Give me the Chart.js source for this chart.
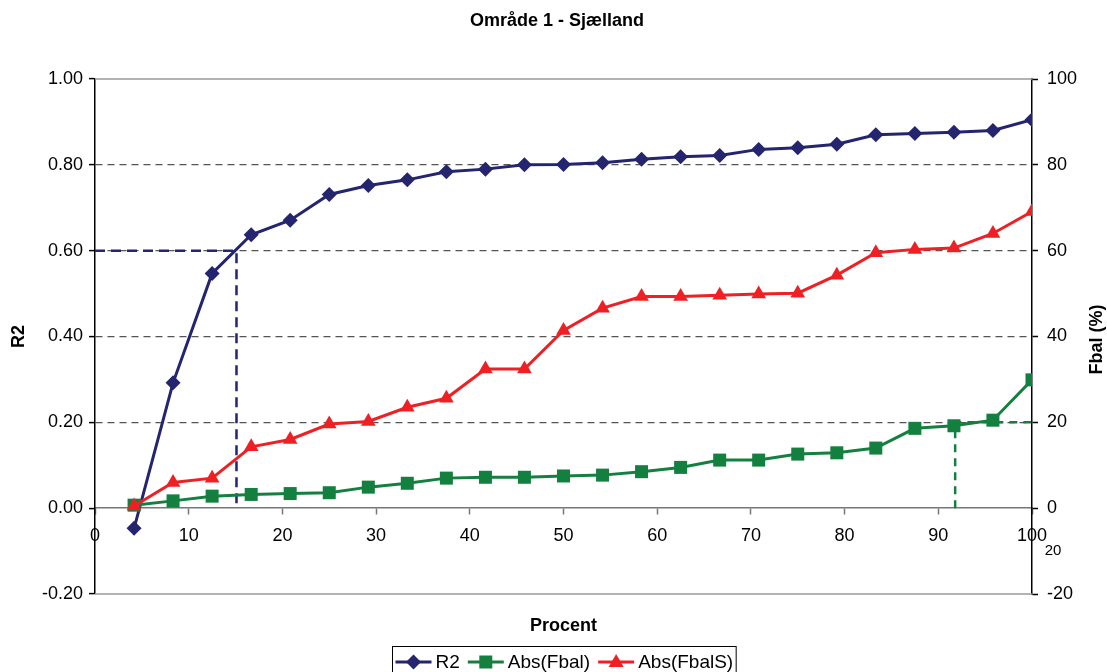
<!DOCTYPE html>
<html>
<head>
<meta charset="utf-8">
<title>Område 1 - Sjælland</title>
<script src="https://cdn.jsdelivr.net/npm/chart.js@4.4.1/dist/chart.umd.min.js"></script>
<style>
    html, body { margin: 0; padding: 0; background: #fff; }
    #chart { display: block; }
</style>
</head>
<body>
<canvas id="chart" width="1107" height="672"></canvas>
<script>
// ================== DATA ==================
const procent  = [4.17, 8.33, 12.5, 16.67, 20.83, 25, 29.17, 33.33, 37.5, 41.67, 45.83, 50,
                  54.17, 58.33, 62.5, 66.67, 70.83, 75, 79.17, 83.33, 87.5, 91.67, 95.83, 100];
const r2       = [-0.047, 0.292, 0.547, 0.637, 0.671, 0.731, 0.752, 0.765, 0.784, 0.790, 0.800, 0.801,
                  0.805, 0.813, 0.819, 0.822, 0.836, 0.840, 0.848, 0.870, 0.873, 0.876, 0.880, 0.905];
const absFbal  = [0.7, 1.7, 2.8, 3.2, 3.4, 3.6, 4.9, 5.8, 7.0, 7.2, 7.2, 7.5,
                  7.7, 8.5, 9.5, 11.2, 11.2, 12.6, 12.9, 14.0, 18.6, 19.2, 20.5, 29.9];
const absFbalS = [0.5, 6.0, 7.0, 14.3, 16.0, 19.6, 20.2, 23.5, 25.6, 32.4, 32.4, 41.4,
                  46.6, 49.3, 49.3, 49.6, 49.9, 50.1, 54.3, 59.5, 60.3, 60.6, 64.0, 69.1];

// dashed guide lines (R2 = 0.60 and Fbal = 20 %)
const r2GuideX   = [0, 15.1, 15.1];
const r2GuideY   = [0.6, 0.6, 0];
const fbalGuideX = [91.8, 91.8, 100];
const fbalGuideY = [0, 20, 20];

// tick labels
const procentTicks = [0, 10, 20, 30, 40, 50, 60, 70, 80, 90, 100];
const r2Ticks      = [-0.2, 0, 0.2, 0.4, 0.6, 0.8, 1.0];
const fbalTicks    = [-20, 0, 20, 40, 60, 80, 100];

const NAVY  = "#24246f";
const GREEN = "#14803f";
const RED   = "#ee2024";
const FONT  = "'Liberation Sans', Arial, sans-serif";

function pts(xs, ys) {
    return xs.map((x, i) => ({ x: x, y: ys[i] }));
}

// ================== EXTRA DRAWING ==================
function drawMarker(ctx, style, x, y, color) {
    ctx.fillStyle = color;
    ctx.beginPath();
    if (style === "diamond") {
        ctx.moveTo(x, y - 7.5); ctx.lineTo(x + 7.5, y); ctx.lineTo(x, y + 7.5); ctx.lineTo(x - 7.5, y);
    } else if (style === "square") {
        ctx.rect(x - 6.5, y - 6.5, 13, 13);
    } else {
        ctx.moveTo(x, y - 8); ctx.lineTo(x + 7.5, y + 5); ctx.lineTo(x - 7.5, y + 5);
    }
    ctx.closePath();
    ctx.fill();
}

const extras = {
    id: "extras",
    beforeDatasetsDraw(chart) {
        const { ctx, chartArea: a } = chart;
        ctx.save();
        ctx.strokeStyle = "#9a9a9a";
        ctx.lineWidth = 1.5;
        ctx.beginPath();
        ctx.moveTo(a.left, a.top);    ctx.lineTo(a.right, a.top);
        ctx.moveTo(a.left, a.bottom); ctx.lineTo(a.right, a.bottom);
        ctx.stroke();
        ctx.restore();
    },
    afterDraw(chart) {
        const { ctx, chartArea: a } = chart;
        const midY = (a.top + a.bottom) / 2;
        const midX = (a.left + a.right) / 2;
        ctx.save();
        ctx.fillStyle = "#000";
        ctx.textBaseline = "middle";
        ctx.textAlign = "center";

        ctx.font = "bold 18px " + FONT;
        ctx.fillText("Område 1 - Sjælland", 557, 21);
        ctx.fillText("Procent", midX, 626);

        ctx.save();
        ctx.translate(19, midY);
        ctx.rotate(-Math.PI / 2);
        ctx.fillText("R2", 0, 0);
        ctx.restore();

        ctx.save();
        ctx.translate(1097, midY + 3);
        ctx.rotate(-Math.PI / 2);
        ctx.fillText("Fbal (%)", 0, 0);
        ctx.restore();

        // stray label next to the right axis
        ctx.font = "15px " + FONT;
        ctx.fillText("20", 1053, 551);

        // ---- LEGEND ----
        const items = [
            { text: "R2",         color: NAVY,  style: "diamond" },
            { text: "Abs(Fbal)",  color: GREEN, style: "square" },
            { text: "Abs(FbalS)", color: RED,   style: "triangle" }
        ];
        ctx.font = "19px " + FONT;
        const lineLen = 36, gap = 4, itemGap = 8;
        let total = 6;
        items.forEach((it, i) => {
            it.w = ctx.measureText(it.text).width;
            total += lineLen + gap + it.w + (i < items.length - 1 ? itemGap : 0);
        });
        const boxLeft = Math.round(midX - total / 2) + 0.5;
        const ly = 662;
        ctx.strokeStyle = "#000";
        ctx.lineWidth = 1;
        ctx.strokeRect(boxLeft, 646.5, total, 40);

        let x = boxLeft + 3;
        ctx.textAlign = "left";
        items.forEach(it => {
            ctx.strokeStyle = it.color;
            ctx.lineWidth = 3;
            ctx.beginPath();
            ctx.moveTo(x, ly);
            ctx.lineTo(x + lineLen, ly);
            ctx.stroke();
            drawMarker(ctx, it.style, x + lineLen / 2, ly, it.color);
            ctx.fillStyle = "#000";
            ctx.fillText(it.text, x + lineLen + gap, ly + 1);
            x += lineLen + gap + it.w + itemGap;
        });
        ctx.restore();
    }
};

// ================== CHART ==================
function isEdge(v) {
    return Math.abs(v - 1) < 1e-6 || Math.abs(v + 0.2) < 1e-6 || Math.abs(v) < 1e-6;
}

new Chart(document.getElementById("chart"), {
    type: "line",
    data: {
        datasets: [
            {
                label: "R2",
                data: pts(procent, r2),
                yAxisID: "y",
                order: 3,
                borderColor: NAVY,
                backgroundColor: NAVY,
                borderWidth: 3,
                pointStyle: "rectRot",
                pointRadius: 7.5,
                pointBorderWidth: 0
            },
            {
                label: "Abs(Fbal)",
                data: pts(procent, absFbal),
                yAxisID: "y2",
                order: 2,
                borderColor: GREEN,
                backgroundColor: GREEN,
                borderWidth: 3,
                pointStyle: "rect",
                pointRadius: 9.2,
                pointBorderWidth: 0
            },
            {
                label: "Abs(FbalS)",
                data: pts(procent, absFbalS),
                yAxisID: "y2",
                order: 1,
                borderColor: RED,
                backgroundColor: RED,
                borderWidth: 3,
                pointStyle: "triangle",
                pointRadius: 8.5,
                pointBorderWidth: 0
            },
            {
                label: "R2 guide",
                data: pts(r2GuideX, r2GuideY),
                yAxisID: "y",
                order: 5,
                borderColor: NAVY,
                borderWidth: 2.5,
                borderDash: [10, 6],
                pointRadius: 0
            },
            {
                label: "Fbal guide",
                data: pts(fbalGuideX, fbalGuideY),
                yAxisID: "y2",
                order: 4,
                borderColor: GREEN,
                borderWidth: 2.5,
                borderDash: [8, 6],
                pointRadius: 0
            }
        ]
    },
    options: {
        responsive: false,
        animation: false,
        events: [],
        layout: { padding: { top: 79, bottom: 78, left: 0, right: 0 } },
        plugins: {
            legend: { display: false },
            title: { display: false },
            tooltip: { enabled: false }
        },
        scales: {
            x: {
                type: "linear",
                position: { y: 0 },
                min: 0,
                max: 100,
                afterBuildTicks: s => { s.ticks = procentTicks.map(v => ({ value: v })); },
                afterFit: s => { s.height = 0; },
                ticks: {
                    autoSkip: false,
                    maxRotation: 0,
                    padding: 11,
                    color: "#000",
                    font: { family: FONT, size: 18 }
                },
                grid: {
                    drawOnChartArea: false,
                    tickLength: 6,
                    tickColor: "#777",
                    tickWidth: 1.5
                },
                border: { color: "#777", width: 1.5 }
            },
            y: {
                type: "linear",
                position: "left",
                min: -0.2,
                max: 1.0,
                afterBuildTicks: s => { s.ticks = r2Ticks.map(v => ({ value: v })); },
                afterFit: s => { s.width = 95; },
                ticks: {
                    padding: 6,
                    color: "#000",
                    font: { family: FONT, size: 18 },
                    callback: v => v.toFixed(2)
                },
                grid: {
                    color: c => (c.tick && isEdge(c.tick.value)) ? "rgba(0,0,0,0)" : "#555",
                    lineWidth: 1.2,
                    tickLength: 6,
                    tickColor: "#000",
                    tickWidth: 1.5,
                    tickBorderDash: []
                },
                border: { color: "#000", width: 1.5, dash: [7, 5] }
            },
            y2: {
                type: "linear",
                position: "right",
                min: -20,
                max: 100,
                afterBuildTicks: s => { s.ticks = fbalTicks.map(v => ({ value: v })); },
                afterFit: s => { s.width = 75; },
                ticks: {
                    padding: 9,
                    color: "#000",
                    font: { family: FONT, size: 18 }
                },
                grid: {
                    drawOnChartArea: false,
                    tickLength: 6,
                    tickColor: "#000",
                    tickWidth: 1.5
                },
                border: { color: "#000", width: 1.5 }
            }
        }
    },
    plugins: [extras]
});
</script>
</body>
</html>
